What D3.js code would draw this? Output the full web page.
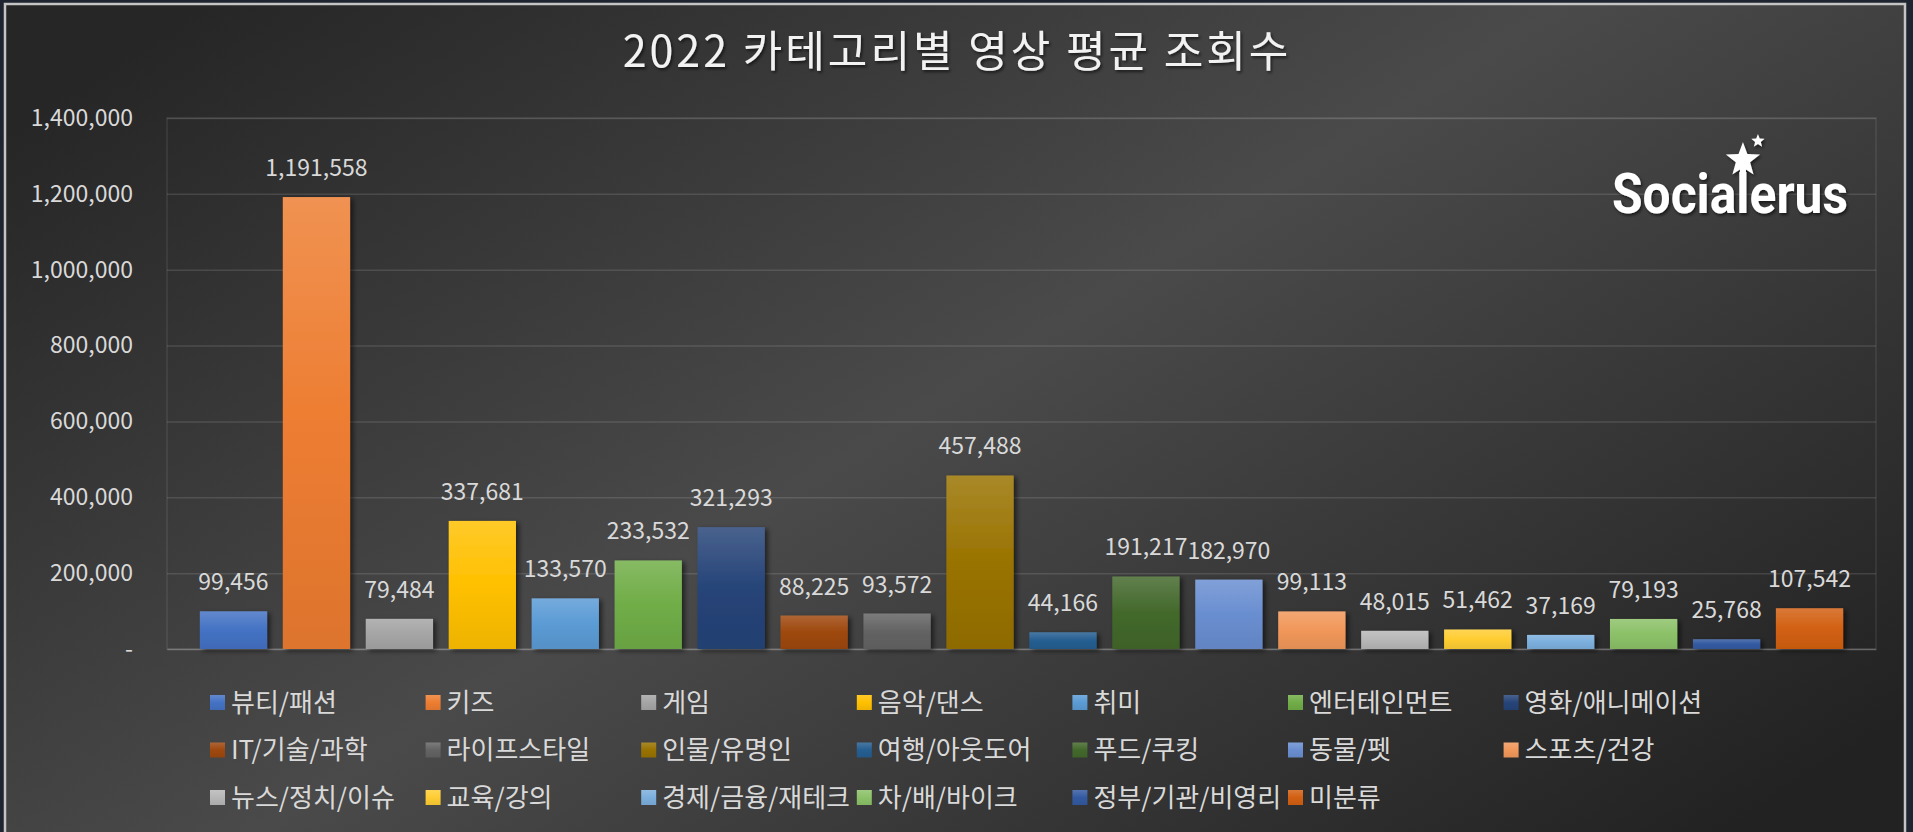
<!DOCTYPE html>
<html>
<head>
<meta charset="utf-8">
<script src="https://cdn.jsdelivr.net/npm/d3@7"></script>
<style>
  html, body { margin: 0; padding: 0; background: #1f2530; overflow: hidden; }
  svg { display: block; }
  text { font-family: "Noto Sans CJK KR", "Noto Sans", sans-serif; }
</style>
</head>
<body>
<svg id="chart" width="1913" height="832"></svg>
<script>
const title = "2022 카테고리별 영상 평균 조회수";
const categories = ["뷰티/패션", "키즈", "게임", "음악/댄스", "취미", "엔터테인먼트", "영화/애니메이션",
  "IT/기술/과학", "라이프스타일", "인물/유명인", "여행/아웃도어", "푸드/쿠킹", "동물/펫", "스포츠/건강",
  "뉴스/정치/이슈", "교육/강의", "경제/금융/재테크", "차/배/바이크", "정부/기관/비영리", "미분류"];
const values = [99456, 1191558, 79484, 337681, 133570, 233532, 321293,
  88225, 93572, 457488, 44166, 191217, 182970, 99113,
  48015, 51462, 37169, 79193, 25768, 107542];
const colors = ["#4472C4", "#ED7D31", "#A5A5A5", "#FFC000", "#5B9BD5", "#70AD47", "#264478",
  "#9E480E", "#636363", "#997300", "#255E91", "#43682B", "#698ED0", "#F1975A",
  "#B7B7B7", "#FFCD33", "#7CAFDD", "#8CC168", "#335AA1", "#D26012"];
const yTicks = [0, 200000, 400000, 600000, 800000, 1000000, 1200000, 1400000];
const logoText = "Socialerus";

const W = 1913, H = 832;
const svg = d3.select("#chart");
const defs = svg.append("defs");

// background gradient
const bg = defs.append("linearGradient").attr("id", "bg")
  .attr("x1", "0%").attr("y1", "15%").attr("x2", "100%").attr("y2", "85%");
bg.append("stop").attr("offset", "0%").attr("stop-color", "#262626");
bg.append("stop").attr("offset", "48%").attr("stop-color", "#4a4a4a");
bg.append("stop").attr("offset", "100%").attr("stop-color", "#222222");

// shadows
const sh = defs.append("filter").attr("id", "barShadow").attr("x", "-20%").attr("y", "-20%").attr("width", "150%").attr("height", "150%");
sh.append("feDropShadow").attr("dx", 3).attr("dy", 2).attr("stdDeviation", 2.5)
  .attr("flood-color", "#000").attr("flood-opacity", 0.55);
const tsh = defs.append("filter").attr("id", "textShadow").attr("x", "-10%").attr("y", "-30%").attr("width", "120%").attr("height", "160%");
tsh.append("feDropShadow").attr("dx", 1.5).attr("dy", 2).attr("stdDeviation", 1.5)
  .attr("flood-color", "#000").attr("flood-opacity", 0.6);

// bar gradients
colors.forEach((c, i) => {
  const g = defs.append("linearGradient").attr("id", "g" + i)
    .attr("x1", 0).attr("y1", 0).attr("x2", 0).attr("y2", 1);
  g.append("stop").attr("offset", "0%").attr("stop-color", d3.interpolateRgb(c, "#ffffff")(0.16));
  g.append("stop").attr("offset", "50%").attr("stop-color", c);
  g.append("stop").attr("offset", "100%").attr("stop-color", d3.color(c).darker(0.2).formatHex());
});

// frame
svg.append("rect").attr("x", 5).attr("y", 4).attr("width", 1900).attr("height", 840)
  .attr("fill", "url(#bg)").attr("stroke", "#c4c4c4").attr("stroke-width", 2.5);

// title
svg.append("text").attr("x", 957).attr("y", 67).attr("text-anchor", "middle")
  .attr("font-size", 43).attr("fill", "#f2f2f2").attr("letter-spacing", 3)
  .attr("filter", "url(#textShadow)").text(title);

// plot area
const plot = { left: 167, right: 1876, top: 118, bottom: 649 };
const x = d3.scaleBand().domain(categories).range([plot.left, plot.right])
  .paddingInner(0.189).paddingOuter(0.396);
const y = d3.scaleLinear().domain([0, 1400000]).range([plot.bottom, plot.top]);

// plot border
svg.append("rect").attr("x", plot.left).attr("y", plot.top)
  .attr("width", plot.right - plot.left).attr("height", plot.bottom - plot.top)
  .attr("fill", "none").attr("stroke", "rgba(255,255,255,0.09)").attr("stroke-width", 1.5);

// gridlines
const grid = svg.append("g").attr("transform", `translate(${plot.left},0)`)
  .call(d3.axisLeft(y).tickValues(yTicks).tickSize(-(plot.right - plot.left)).tickFormat(""));
grid.select(".domain").remove();
grid.selectAll("line").attr("stroke", "rgba(255,255,255,0.12)").attr("stroke-width", 1.5);

// y axis labels
const yAxis = svg.append("g").attr("transform", `translate(${plot.left},0)`)
  .call(d3.axisLeft(y).tickValues(yTicks).tickSize(0).tickPadding(34)
    .tickFormat(d => d === 0 ? "-" : d3.format(",")(d)));
yAxis.select(".domain").remove();
yAxis.selectAll("text").attr("font-size", 23).attr("fill", "#d9d9d9")
  .style("font-family", "'Noto Sans CJK KR', sans-serif");

// x axis baseline
const xAxis = svg.append("g").attr("transform", `translate(0,${plot.bottom})`)
  .call(d3.axisBottom(x).tickSize(0).tickFormat(""));
xAxis.select(".domain").attr("stroke", "rgba(255,255,255,0.16)").attr("stroke-width", 1.5);

// bars
const data = categories.map((c, i) => ({ c, v: values[i], i }));
svg.append("g").selectAll("rect").data(data).join("rect")
  .attr("x", d => x(d.c)).attr("width", x.bandwidth())
  .attr("y", d => y(d.v)).attr("height", d => y(0) - y(d.v))
  .attr("fill", d => `url(#g${d.i})`).attr("filter", "url(#barShadow)");

// data labels
svg.append("g").selectAll("text").data(data).join("text")
  .attr("x", d => x(d.c) + x.bandwidth() / 2).attr("y", d => y(d.v) - 21)
  .attr("text-anchor", "middle").attr("font-size", 23).attr("fill", "#d9d9d9")
  .text(d => d3.format(",")(d.v));

// legend
const legend = svg.append("g");
const colW = 215.6, rowH = 47.5, lx0 = 210, ly0 = 695;
data.forEach(d => {
  const col = d.i % 7, row = Math.floor(d.i / 7);
  const gx = lx0 + col * colW, gy = ly0 + row * rowH;
  legend.append("rect").attr("x", gx).attr("y", gy).attr("width", 15).attr("height", 15)
    .attr("fill", `url(#g${d.i})`);
  legend.append("text").attr("x", gx + 21).attr("y", gy + 16.5)
    .attr("font-size", 26).attr("fill", "#d9d9d9").text(d.c);
});

// logo
const logo = svg.append("g").attr("filter", "url(#textShadow)");
const lt = logo.append("text").attr("x", 1612).attr("y", 213)
  .attr("font-size", 56).attr("font-weight", "bold").attr("fill", "#ffffff")
  .attr("textLength", 236).attr("lengthAdjust", "spacingAndGlyphs")
  .style("font-family", "Roboto, 'Liberation Sans', sans-serif")
  .text(logoText);
function starPath(cx, cy, R, r) {
  const pts = [];
  for (let k = 0; k < 10; k++) {
    const ang = -Math.PI / 2 + k * Math.PI / 5;
    const rad = k % 2 === 0 ? R : r;
    pts.push([cx + rad * Math.cos(ang), cy + rad * Math.sin(ang)]);
  }
  return "M" + pts.map(p => p.join(",")).join("L") + "Z";
}
let lx = 1743;
try {
  const idx = logoText.indexOf("l");
  const ext = lt.node().getExtentOfChar(idx);
  lx = ext.x + ext.width / 2;
} catch (e) {}
logo.append("rect").attr("x", lx - 3).attr("y", 158).attr("width", 6).attr("height", 20).attr("fill", "#fff");
logo.append("path").attr("d", starPath(lx, 160, 18, 7.5)).attr("fill", "#fff");
logo.append("path").attr("d", starPath(lx + 15, 141, 7, 3)).attr("fill", "#fff");
</script>
</body>
</html>
